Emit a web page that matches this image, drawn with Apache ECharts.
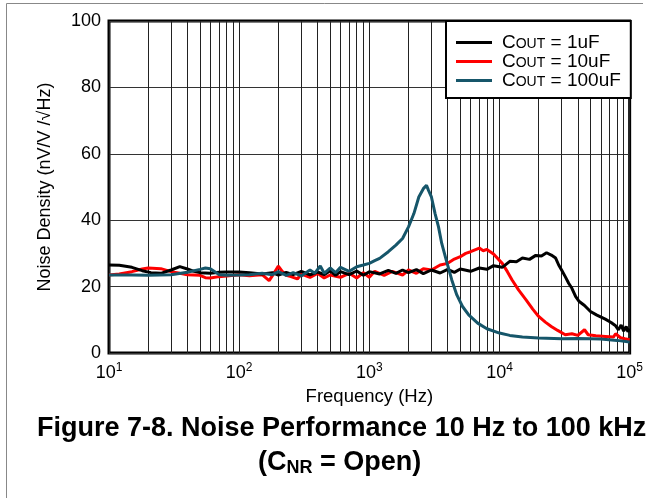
<!DOCTYPE html>
<html>
<head>
<meta charset="utf-8">
<script src="https://cdn.jsdelivr.net/npm/echarts@6/dist/echarts.min.js"></script>
<style>
  html, body { margin: 0; padding: 0; background: #fff; }
  #chart { width: 646px; height: 498px; }
</style>
</head>
<body>
<div id="chart"></div>
<script>
// legend names (C_OUT values)
var seriesNames = ['1uF', '10uF', '100uF'];
var seriesColors = ['#000000', '#ff0000', '#16566a'];

// x tick labels are powers of ten: 10^1 .. 10^5
var xTicks = [10, 100, 1000, 10000, 100000];
var yTicks = [0, 20, 40, 60, 80, 100];

// [frequency Hz, noise density nV/V/rtHz]
var cout1uF = [
  [10, 26.5], [12, 26.4], [15, 25.8], [18, 24.8], [21, 24.2], [25, 24], [30, 25], [35, 26],
  [40, 25.3], [45, 24.6], [50, 24.2], [60, 24], [70, 24.3], [80, 24.4], [100, 24.4], [120, 24.2],
  [150, 23.8], [180, 24.2], [200, 23.5], [230, 24.3], [260, 23.6], [300, 24.6], [350, 23.5],
  [400, 24.4], [450, 23.6], [500, 24.8], [550, 23.4], [600, 24.5], [700, 23.6], [800, 24.7],
  [900, 23.4], [1000, 24.5], [1200, 23.8], [1400, 24.9], [1600, 24], [1800, 25], [2000, 24.2],
  [2300, 25.1], [2600, 23.9], [3000, 25], [3500, 24.1], [4000, 25.2], [4500, 24.3], [5000, 25.3],
  [6000, 24.6], [7000, 25.6], [8000, 25.2], [9000, 26.3], [10500, 25.8], [12000, 27.6],
  [13500, 27.5], [15000, 28.6], [17000, 28.2], [19000, 29.4], [21000, 29.2], [23000, 30.2],
  [25000, 29.5], [27000, 28.6], [28500, 26.5], [30000, 25], [32000, 23], [34000, 21],
  [36000, 19.5], [38500, 17], [41000, 15.5], [45000, 14.3], [50000, 12.5], [56000, 11.4],
  [65000, 10.2], [72000, 9.2], [78000, 8.2], [82000, 7], [86000, 8.4], [90000, 6.6],
  [94000, 8], [97000, 6.4], [100000, 7.3]
];

var cout10uF = [
  [10, 23.5], [12, 23.8], [15, 24.5], [18, 25.3], [20, 25.6], [25, 25.4], [30, 24.5], [35, 24],
  [40, 23.6], [50, 23.4], [55, 22.7], [60, 22.6], [70, 23], [80, 23.2], [100, 23.6], [120, 23.3],
  [150, 23.6], [170, 21.8], [185, 24], [200, 26.2], [215, 24.5], [230, 23.4], [250, 23],
  [280, 22.3], [300, 23.8], [350, 22.8], [400, 24], [450, 22.6], [500, 23.5], [600, 22.8],
  [700, 24], [800, 22.6], [900, 24.2], [1000, 22.8], [1100, 24.6], [1300, 23.4], [1500, 24.6],
  [1800, 23.5], [2000, 25], [2300, 24], [2600, 25.4], [3000, 25], [3500, 26.5], [4000, 27],
  [4500, 28.3], [5000, 29], [5500, 30], [6000, 30.5], [7000, 31.6], [7500, 30.8], [8000, 31.2],
  [9000, 29.8], [10500, 27], [11500, 24.5], [12500, 22], [14000, 19], [16000, 16], [18000, 13.2],
  [20000, 11], [22500, 9.3], [25000, 8], [28000, 6.8], [32000, 5.5], [36000, 5.8], [40000, 5.3],
  [45000, 7], [48000, 5.5], [55000, 5.2], [65000, 5], [75000, 4.8], [78000, 5.8], [85000, 4.6],
  [92000, 4.3], [100000, 4]
];

var cout100uF = [
  [10, 23.5], [15, 23.5], [20, 23.4], [30, 23.6], [40, 24.3], [50, 25.2], [55, 25.6], [60, 25.4],
  [65, 24.5], [70, 23.6], [80, 23.4], [100, 23.5], [120, 23.6], [150, 24], [180, 23.6],
  [200, 24.5], [230, 23.4], [260, 24.2], [300, 23.2], [350, 25], [380, 24], [420, 26.2],
  [450, 24], [500, 25.6], [550, 24.2], [600, 25.8], [700, 24.6], [800, 26], [900, 26.5],
  [1000, 27], [1100, 27.8], [1200, 28.5], [1400, 30.5], [1600, 32.5], [1800, 34.5], [2000, 38],
  [2200, 42], [2400, 47], [2600, 49.5], [2750, 50.5], [2850, 49], [3000, 47], [3200, 42],
  [3400, 38], [3600, 33], [3900, 28], [4300, 22], [4700, 17.5], [5200, 14], [5800, 11.5],
  [6800, 9], [8000, 7.3], [10000, 6], [12000, 5.3], [15000, 4.8], [20000, 4.5], [30000, 4.3],
  [40000, 4.4], [50000, 4.3], [60000, 4.2], [80000, 3.8], [100000, 3.3]
];

// vertical grid at 2..9 of every decade
var minorGrid = [];
for (var d = 10; d < 100000; d *= 10) {
  for (var k = 2; k <= 9; k++) minorGrid.push(d * k);
}

var chart = echarts.init(document.getElementById('chart'), null, { renderer: 'canvas' });
var font = 'Liberation Sans, Arial, sans-serif';

function legendLabel(name) {
  return '{f|C}{s|OUT}{c| = ' + name + '}';
}

chart.setOption({
  animation: false,
  textStyle: { fontFamily: font, color: '#000' },
  title: [
    {
      text: 'Figure 7-8. Noise Performance 10 Hz to 100 kHz',
      left: 37,
      top: 415,
      padding: 0,
      textStyle: { fontFamily: font, fontSize: 27, fontWeight: 'bold', color: '#000' }
    },
    {
      text: '{t|(C}{s|NR}{t| = Open)}',
      left: 258,
      top: 449,
      padding: 0,
      textStyle: {
        rich: {
          t: { fontFamily: font, fontSize: 27, fontWeight: 'bold', color: '#000' },
          s: { fontFamily: font, fontSize: 18, fontWeight: 'bold', color: '#000', padding: [10, 0, 0, 0] }
        }
      }
    }
  ],
  grid: {
    left: 109, right: 15, top: 21, bottom: 145,
    show: true, borderColor: '#000', borderWidth: 3, backgroundColor: 'transparent'
  },
  legend: {
    orient: 'vertical',
    left: 446, top: 21,
    z: 20,
    data: seriesNames,
    icon: 'rect',
    itemWidth: 36, itemHeight: 3,
    itemGap: 0,
    padding: [12, 10, 8, 10],
    backgroundColor: '#fff',
    borderColor: '#000', borderWidth: 2,
    formatter: legendLabel,
    textStyle: {
      rich: {
        f: { fontFamily: font, fontSize: 19, color: '#000', lineHeight: 19, padding: [0, 0, 0, 5] },
        c: { fontFamily: font, fontSize: 19, color: '#000', lineHeight: 19 },
        s: { fontFamily: font, fontSize: 14, color: '#000', padding: [4, 0, 0, 0] }
      }
    }
  },
  xAxis: {
    type: 'log', logBase: 10, min: 10, max: 100000,
    name: 'Frequency (Hz)', nameLocation: 'middle', nameGap: 27,
    nameTextStyle: { fontFamily: font, fontSize: 18.5, color: '#000' },
    axisLine: { show: false },
    axisTick: { show: false },
    axisLabel: {
      margin: 9,
      formatter: function (v) {
        return '{b|10}{e|' + Math.round(Math.log10(v)) + '}';
      },
      rich: {
        b: { fontFamily: font, fontSize: 18, color: '#000' },
        e: { fontFamily: font, fontSize: 12, color: '#000', padding: [0, 0, 11, 0] }
      }
    },
    splitLine: { show: true, lineStyle: { color: '#222', width: 1 } }
  },
  yAxis: {
    type: 'value', min: yTicks[0], max: yTicks[yTicks.length - 1], interval: 20,
    name: 'Noise Density (nV/V /\u221AHz)', nameLocation: 'middle', nameGap: 55,
    nameTextStyle: { fontFamily: font, fontSize: 18, color: '#000' },
    axisLine: { show: false },
    axisTick: { show: false },
    axisLabel: { fontFamily: font, fontSize: 18, color: '#000', margin: 8 },
    splitLine: { show: true, lineStyle: { color: '#333', width: 1 } }
  },
  graphic: [
    { type: 'line', shape: { x1: 6.5, y1: 3.5, x2: 6.5, y2: 498 }, style: { stroke: '#888', lineWidth: 1 }, silent: true },
    { type: 'line', shape: { x1: 6.5, y1: 3.5, x2: 643, y2: 3.5 }, style: { stroke: '#888', lineWidth: 1 }, silent: true }
  ],
  series: [
    {
      name: 'grid',
      type: 'line',
      data: [],
      silent: true,
      z: 1,
      markLine: {
        silent: true,
        z: 1,
        symbol: 'none',
        label: { show: false },
        lineStyle: { color: '#222', width: 1, type: 'solid' },
        data: minorGrid.map(function (v) { return { xAxis: v }; })
      }
    },
    {
      name: seriesNames[1], type: 'line', data: cout10uF, showSymbol: false,
      lineStyle: { color: seriesColors[1], width: 3 }, itemStyle: { color: seriesColors[1] }, z: 3
    },
    {
      name: seriesNames[0], type: 'line', data: cout1uF, showSymbol: false,
      lineStyle: { color: seriesColors[0], width: 3 }, itemStyle: { color: seriesColors[0] }, z: 4
    },
    {
      name: seriesNames[2], type: 'line', data: cout100uF, showSymbol: false,
      lineStyle: { color: seriesColors[2], width: 3 }, itemStyle: { color: seriesColors[2] }, z: 5
    }
  ]
});

window.addEventListener('resize', function () {
  chart.resize();
});
</script>
</body>
</html>
